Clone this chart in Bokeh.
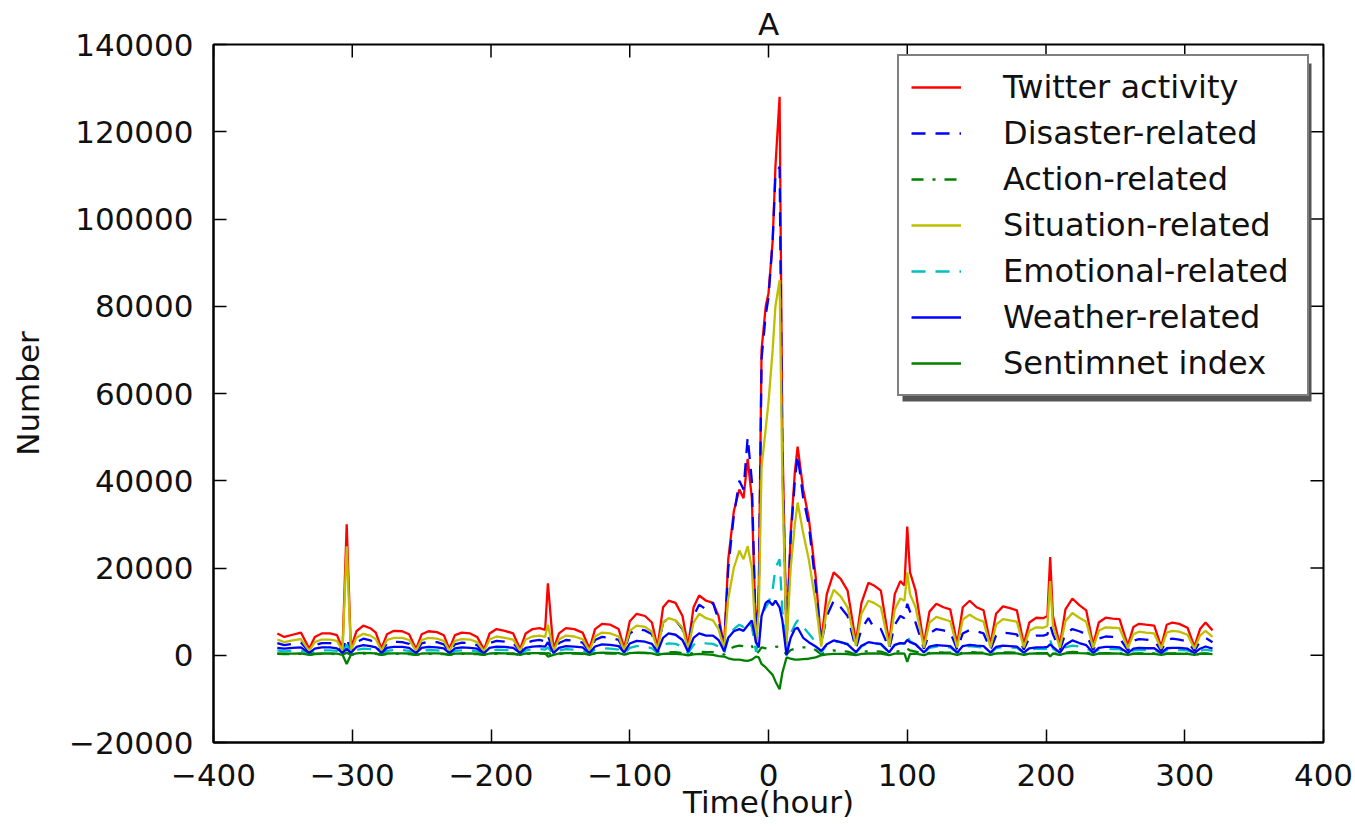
from bokeh.plotting import figure
from bokeh.models import Range1d, FixedTicker, Legend, LegendItem, BoxAnnotation
from bokeh.embed import file_html
from bokeh.resources import INLINE

FONT = "DejaVu Sans"

# ---------------- data ----------------
hours = [
    -354, -349, -343, -337, -331,
    -327, -322, -316, -311, -307, -304, -301,
    -297, -292, -287, -283, -279,
    -275, -270, -264, -259, -254,
    -250, -245, -239, -234, -230,
    -226, -221, -215, -210, -205,
    -201, -196, -190, -184, -179,
    -175, -170, -165, -161, -159, -155,
    -151, -146, -140, -134, -129,
    -125, -120, -114, -108, -104,
    -100, -95, -89, -84, -80,
    -76, -72, -67, -62, -58,
    -54, -50, -45, -40, -36, -32,
    -29, -25, -21, -18, -15, -12, -9,
    -7, -5, -2, 0, 3, 5, 8, 10, 13,
    16, 19, 21, 25, 29, 34, 38,
    42, 47, 52, 57, 63,
    67, 72, 76, 81, 87,
    91, 95, 98, 100, 102, 106, 112,
    116, 121, 126, 131, 136,
    140, 145, 150, 155, 160,
    164, 169, 174, 179, 184,
    188, 193, 198, 201, 203, 205, 210,
    214, 219, 224, 229, 234,
    238, 243, 248, 253, 259,
    263, 267, 272, 278, 283,
    287, 291, 296, 302, 307,
    311, 315, 320,
]

twitter_activity = [
    5000, 4200, 4700, 5200, 1500,
    4200, 5000, 5000, 4600, 1500, 30000, 1500,
    5500, 6800, 6200, 5200, 1500,
    4800, 5600, 5500, 4800, 1400,
    4800, 5500, 5300, 4600, 1400,
    4600, 5200, 5000, 4200, 1300,
    5000, 6000, 5600, 5000, 1400,
    5000, 6000, 6200, 5800, 16500, 1400,
    5000, 6200, 6000, 5200, 1500,
    6000, 7200, 7000, 6000, 1600,
    7800, 9500, 9000, 7500, 1800,
    11000, 12500, 12000, 9000, 2000,
    11000, 13700, 12500, 12000, 9000, 2000,
    22000, 33000, 38000, 36000, 45000, 36000, 3500,
    15000, 70000, 80000, 83000, 95000, 112000, 128000, 50000, 3500,
    28000, 42000, 47800, 38000, 31500, 18000, 3000,
    14000, 19000, 17500, 14800, 3000,
    12000, 16600, 16000, 14800, 2800,
    14000, 17000, 16000, 29500, 19000, 14800, 2500,
    10000, 11800, 11000, 10500, 2500,
    11000, 12500, 11000, 10300, 2500,
    9500, 11200, 10800, 10300, 2500,
    7500, 8600, 8500, 9000, 22500, 9000, 2300,
    10500, 13000, 11500, 10300, 2300,
    7500, 8600, 8400, 8300, 2200,
    6500, 7200, 7000, 6800, 2000,
    7000, 7500, 7200, 6300, 2000,
    6000, 7500, 5700,
]

disaster_related = [
    2800, 2300, 2600, 2900, 800,
    2300, 2800, 2800, 2500, 800, 4000, 800,
    3000, 3800, 3400, 2900, 800,
    2700, 3100, 3000, 2600, 800,
    2700, 3100, 3000, 2500, 800,
    2500, 2900, 2800, 2300, 700,
    2800, 3300, 3100, 2800, 800,
    2800, 3300, 3500, 3200, 4500, 800,
    2800, 3500, 3300, 2900, 800,
    3500, 4200, 4000, 3500, 900,
    5000, 6000, 5700, 4800, 1000,
    7500, 8500, 8000, 6000, 1200,
    9000, 11600, 10500, 12000, 8000, 1500,
    20000, 32000, 40000, 38000, 50000, 40000, 3000,
    13000, 68000, 78000, 82000, 95000, 110000, 112000, 45000, 3000,
    27000, 40000, 46000, 36000, 30000, 16000, 2500,
    9000, 12500, 11000, 9000, 1500,
    6000, 8500, 6300, 6000, 1500,
    7000, 9000, 8500, 11800, 10000, 7500, 1500,
    5000, 6000, 5700, 5300, 1300,
    5000, 5800, 5500, 5000, 1300,
    4500, 5200, 5000, 4800, 1300,
    4000, 4500, 4500, 4800, 7000, 4800, 1200,
    5000, 6000, 5500, 4800, 1200,
    3800, 4300, 4200, 4000, 1100,
    3300, 3700, 3600, 3400, 1000,
    3500, 3800, 3600, 3200, 1000,
    3200, 4000, 3000,
]

action_related = [
    300, 250, 280, 300, 80,
    250, 300, 300, 280, 80, 600, 80,
    320, 400, 360, 300, 80,
    280, 330, 320, 280, 80,
    280, 320, 310, 270, 80,
    270, 300, 290, 250, 70,
    290, 350, 330, 290, 80,
    290, 350, 360, 340, 500, 80,
    290, 360, 350, 300, 90,
    350, 420, 400, 350, 100,
    450, 550, 520, 440, 100,
    640, 730, 700, 520, 120,
    640, 800, 730, 700, 520, 120,
    1300, 1900, 2200, 2100, 2600, 2100, 200,
    900, 1800, 1600, 1500, 1700, 1900, 2000, 1200, 200,
    1200, 1500, 1700, 1800, 1800, 1200, 200,
    800, 1100, 1000, 850, 180,
    700, 950, 900, 850, 160,
    800, 950, 900, 1500, 1100, 850, 150,
    580, 680, 640, 610, 150,
    640, 720, 640, 600, 150,
    550, 650, 630, 600, 150,
    440, 500, 490, 520, 1200, 520, 130,
    610, 750, 670, 600, 130,
    440, 500, 490, 480, 130,
    380, 420, 410, 400, 120,
    410, 440, 420, 370, 120,
    350, 440, 330,
]

situation_related = [
    3600, 3000, 3400, 3700, 1000,
    3000, 3600, 3600, 3300, 1000, 25000, 1000,
    4000, 4900, 4500, 3700, 1000,
    3500, 4000, 4000, 3500, 1000,
    3500, 4000, 3800, 3300, 1000,
    3300, 3700, 3600, 3000, 900,
    3600, 4300, 4000, 3600, 1000,
    3600, 4300, 4500, 4200, 7000, 1000,
    3600, 4500, 4300, 3700, 1000,
    4300, 5200, 5000, 4300, 1100,
    5600, 6800, 6500, 5400, 1200,
    7500, 8500, 8000, 6300, 1400,
    7500, 9500, 8500, 8000, 6000, 1400,
    13000, 20000, 24000, 22000, 25000, 20000, 2500,
    10000, 43000, 52000, 58000, 70000, 80000, 86000, 40000, 2500,
    20000, 30000, 35000, 28000, 22000, 12000, 2000,
    10500, 15000, 13500, 11000, 2200,
    9500, 12500, 12000, 11000, 2000,
    10500, 13000, 12500, 19000, 14000, 11000, 1800,
    7500, 8800, 8300, 7800, 1800,
    8200, 9300, 8300, 7700, 1800,
    7000, 8300, 8000, 7700, 1800,
    5600, 6400, 6300, 6700, 17000, 6700, 1700,
    7800, 9700, 8600, 7700, 1700,
    5600, 6400, 6300, 6200, 1600,
    4800, 5400, 5200, 5000, 1500,
    5200, 5600, 5400, 4700, 1500,
    4500, 5600, 4200,
]

emotional_related = [
    1100, 900, 1000, 1100, 300,
    900, 1100, 1100, 1000, 300, 2500, 300,
    1200, 1500, 1400, 1100, 300,
    1000, 1200, 1200, 1000, 300,
    1000, 1200, 1100, 1000, 300,
    1000, 1100, 1100, 900, 300,
    1100, 1300, 1200, 1100, 300,
    1100, 1300, 1400, 1300, 1800, 300,
    1100, 1400, 1300, 1100, 300,
    1300, 1600, 1500, 1300, 350,
    1700, 2100, 2000, 1600, 400,
    2400, 2700, 2600, 2000, 450,
    2400, 3000, 2700, 2600, 2000, 450,
    4000, 6000, 7000, 6500, 8000, 6500, 800,
    3000, 9000, 11000, 12000, 15000, 20000, 22000, 10000, 800,
    5000, 7000, 8000, 6500, 5000, 3000, 600,
    2400, 3200, 3000, 2600, 600,
    2000, 2800, 2700, 2500, 600,
    2300, 2800, 2600, 4500, 3200, 2500, 550,
    1700, 2000, 1900, 1800, 550,
    1900, 2100, 1900, 1800, 550,
    1600, 1900, 1800, 1700, 550,
    1300, 1500, 1400, 1500, 3500, 1500, 500,
    1800, 2200, 2000, 1700, 500,
    1300, 1500, 1400, 1400, 480,
    1100, 1200, 1200, 1200, 440,
    1200, 1300, 1200, 1100, 440,
    1000, 1300, 1000,
]

weather_related = [
    1700, 1500, 1700, 1800, 500,
    1500, 1800, 1800, 1600, 500, 1500, 500,
    1900, 2300, 2100, 1800, 500,
    1700, 1900, 1900, 1700, 500,
    1700, 1900, 1800, 1600, 500,
    1600, 1800, 1700, 1500, 450,
    1700, 2000, 1900, 1700, 500,
    1700, 2000, 2100, 2000, 3000, 500,
    1700, 2100, 2000, 1800, 500,
    2000, 2500, 2400, 2100, 600,
    2700, 3300, 3100, 2600, 700,
    4000, 5000, 4700, 3500, 800,
    4000, 5000, 4500, 4500, 3500, 900,
    4000, 5500, 6000, 5600, 6800, 8000, 3000,
    1800, 9000, 12000, 12500, 11500, 12500, 11000, 8000, 0,
    4000, 6000, 6300, 4000, 3000, 2000, 1000,
    2500, 3400, 3000, 2500, 700,
    2200, 3000, 2800, 2600, 700,
    2400, 2800, 2700, 3500, 3000, 2500, 650,
    2000, 2300, 2200, 2100, 600,
    2100, 2400, 2200, 2100, 600,
    1900, 2200, 2100, 2000, 600,
    1600, 1800, 1800, 1900, 2500, 1900, 550,
    2400, 3400, 2800, 2300, 550,
    1700, 1900, 1900, 1800, 500,
    1500, 1700, 1600, 1600, 500,
    1600, 1700, 1700, 1500, 500,
    1500, 2000, 1500,
]

sentiment_index = [
    400, 350, 380, 420, 100,
    350, 400, 400, 380, 100, -2000, 100,
    450, 550, 500, 420, 100,
    400, 450, 450, 400, 100,
    400, 450, 430, 380, 100,
    380, 420, 400, 350, 100,
    400, 480, 450, 400, 100,
    400, 480, 500, 460, -300, 100,
    400, 500, 480, 420, 100,
    480, 580, 560, 480, 120,
    500, 600, 560, 450, 100,
    300, 400, 300, 200, 0,
    200, 300, 200, 100, -200, -300,
    -700, -1000, -1000, -1200, -1300, -1000, -300,
    -500, -2000, -2800, -3500, -4500, -6000, -7800, -4000, -500,
    -800, -1000, -1000, -900, -800, -500, 0,
    200, 300, 300, 250, 50,
    300, 400, 400, 350, 50,
    350, 400, 350, -1500, 300, 350, 50,
    400, 500, 450, 450, 100,
    450, 500, 450, 450, 100,
    400, 480, 450, 450, 100,
    350, 400, 400, 400, -300, 400, 100,
    450, 550, 480, 450, 100,
    350, 400, 400, 380, 100,
    300, 350, 330, 320, 100,
    330, 350, 340, 300, 100,
    300, 350, 280,
]

series_labels = ["Twitter activity", "Disaster-related", "Action-related",
                 "Situation-related", "Emotional-related", "Weather-related",
                 "Sentimnet index"]
x_ticks = [-400, -300, -200, -100, 0, 100, 200, 300, 400]
x_tick_labels = ["\u2212400", "\u2212300", "\u2212200", "\u2212100", "0", "100", "200", "300", "400"]
y_ticks = [-20000, 0, 20000, 40000, 60000, 80000, 100000, 120000, 140000]
y_tick_labels = ["\u221220000", "0", "20000", "40000", "60000", "80000", "100000", "120000", "140000"]
x_lo, x_hi = -400, 400
y_lo, y_hi = -20000, 140000

all_series = [twitter_activity, disaster_related, action_related, situation_related,
              emotional_related, weather_related, sentiment_index]
for s, name in zip(all_series, series_labels):
    if len(s) != len(hours):
        raise ValueError(f"{name}: {len(s)} values vs {len(hours)} hours")

# ---------------- figure ----------------
W, H = 1355, 830
BL, BR, BT, BB = 213, 32, 44, 88
FW, FH = W - BL - BR, H - BT - BB
xpx = (x_hi - x_lo) / FW      # data units per pixel
ypx = (y_hi - y_lo) / FH

p = figure(width=W, height=H, x_range=Range1d(x_lo, x_hi), y_range=Range1d(y_lo, y_hi),
           output_backend="svg", toolbar_location=None, title="A",
           min_border_left=BL, min_border_right=BR, min_border_top=BT, min_border_bottom=BB)
p.title.align = "center"
p.title.text_font = FONT
p.title.text_font_size = "31px"
p.title.text_font_style = "normal"
p.title.text_color = "#111111"
p.title.standoff = 6
p.xgrid.visible = False
p.ygrid.visible = False
p.outline_line_color = "black"
p.outline_line_width = 2
p.background_fill_color = "white"
p.border_fill_color = "white"

styles = [
    dict(color="#FF0000", line_dash="solid"),
    dict(color="#0000FF", line_dash="14 10"),
    dict(color="#008000", line_dash="12 9 3 9"),
    dict(color="#BFBF00", line_dash="solid"),
    dict(color="#00BFBF", line_dash="14 10"),
    dict(color="#0000FF", line_dash="solid"),
    dict(color="#008000", line_dash="solid"),
]

renderers = []
for s, st in zip(all_series, styles):
    r = p.line(hours, s, line_color=st["color"], line_width=2.3, line_dash=st["line_dash"])
    renderers.append(r)

xax = p.below[0]
yax = p.left[0]
xax.ticker = FixedTicker(ticks=x_ticks)
yax.ticker = FixedTicker(ticks=y_ticks)
xax.major_label_overrides = dict(zip(x_ticks, x_tick_labels))
yax.major_label_overrides = dict(zip(y_ticks, y_tick_labels))
for ax in (xax, yax):
    ax.major_tick_in = 13
    ax.major_tick_out = 0
    ax.minor_tick_line_color = None
    ax.major_tick_line_color = "black"
    ax.major_tick_line_width = 1.5
    ax.axis_line_color = "black"
    ax.axis_line_width = 2
    ax.major_label_text_font = FONT
    ax.major_label_text_font_size = "31px"
    ax.major_label_text_color = "#111111"
    ax.axis_label_text_font = FONT
    ax.axis_label_text_font_size = "31px"
    ax.axis_label_text_font_style = "normal"
    ax.axis_label_text_color = "#111111"
xax.major_label_standoff = 21
yax.major_label_standoff = 20
xax.axis_label = "Time(hour)"
xax.axis_label_standoff = -5
yax.axis_label = "Number"
yax.axis_label_standoff = 20

# inward ticks on the top and right frame edges (matplotlib classic style)
top_len = 13 * ypx
right_len = 13 * xpx
p.segment(x0=x_ticks, y0=[y_hi] * len(x_ticks), x1=x_ticks, y1=[y_hi - top_len] * len(x_ticks),
          line_color="black", line_width=1.5)
p.segment(x0=[x_hi] * len(y_ticks), y0=y_ticks, x1=[x_hi - right_len] * len(y_ticks), y1=y_ticks,
          line_color="black", line_width=1.5)

# legend with a drop shadow
leg_left, leg_top, leg_w, leg_h = 684, 14, 409, 338
shadow = BoxAnnotation(left=x_lo + (leg_left + 5) * xpx, right=x_lo + (leg_left + leg_w + 5) * xpx,
                       top=y_hi - (leg_top + 5) * ypx, bottom=y_hi - (leg_top + leg_h + 5) * ypx,
                       fill_color="#555555", fill_alpha=1.0, line_color=None)
p.add_layout(shadow)

legend = Legend(items=[LegendItem(label=lab, renderers=[r]) for lab, r in zip(series_labels, renderers)],
                location=(leg_left, FH - leg_top - leg_h))
legend.label_text_font = FONT
legend.label_text_font_size = "32px"
legend.label_text_color = "#111111"
legend.glyph_width = 50
legend.glyph_height = 20
legend.label_standoff = 42
legend.label_width = 292
legend.label_height = 30
legend.padding = 12
legend.spacing = 8
legend.border_line_color = "black"
legend.border_line_width = 2
legend.background_fill_color = "white"
legend.background_fill_alpha = 1.0
legend.margin = 0
p.add_layout(legend, "center")

open("out.html", "w").write(file_html(p, INLINE))
